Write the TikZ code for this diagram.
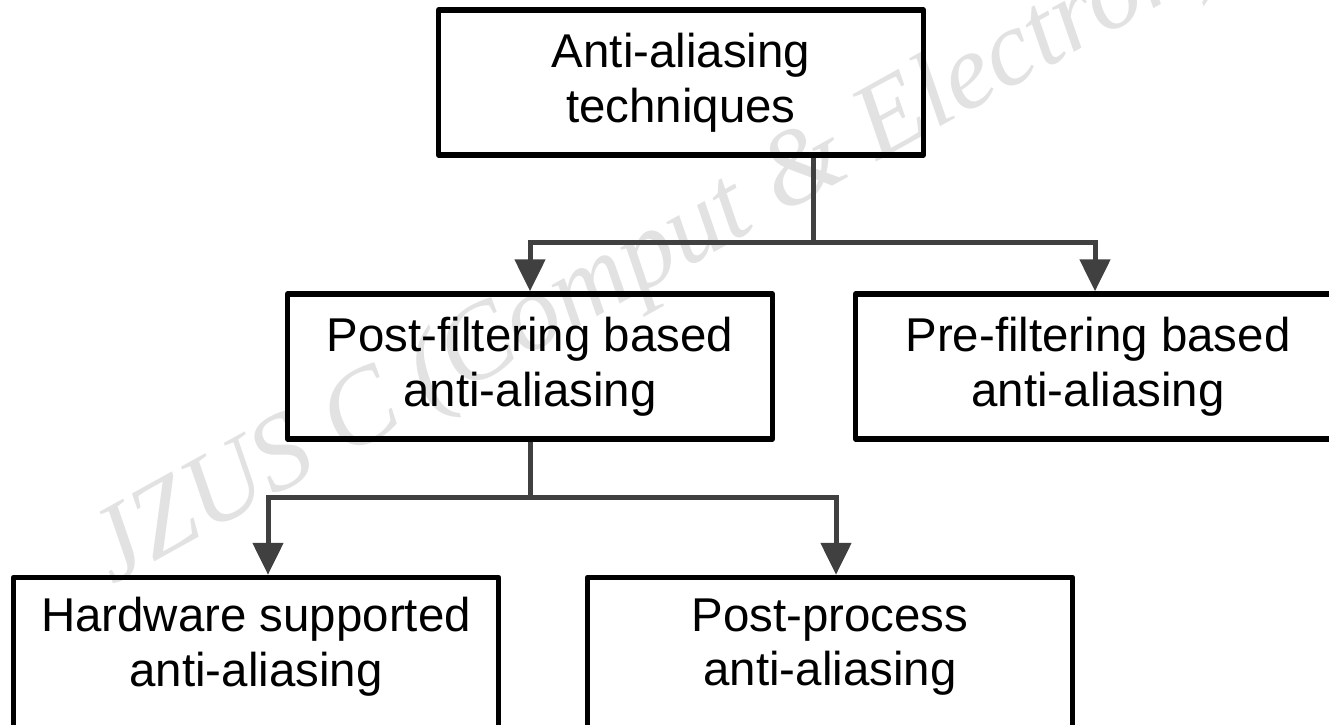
\documentclass[tikz,border=0pt]{standalone}
\usepackage{fontspec}
\setmainfont{Liberation Sans}
\newfontfamily\wmfont{Liberation Serif}
\usetikzlibrary{arrows.meta}
\definecolor{linkgray}{HTML}{404040}
\definecolor{markgray}{HTML}{E2E2E2}
\tikzstyle{box}=[draw, line width=0.11cm, line join=round, minimum width=9.7cm, minimum height=2.9cm, inner sep=0pt, align=center, font=\fontsize{27}{31}\selectfont]
\tikzstyle{lowbox}=[box, minimum height=3.1cm, text depth=0.52cm]
\tikzstyle{link}=[draw=linkgray, line width=0.1cm]
\tikzstyle{arrow}=[link, -{Triangle[width=0.6cm, length=0.64cm]}, linkgray]

\begin{document}
\begin{tikzpicture}[x=0.02cm, y=-0.02cm]
    \useasboundingbox (0, 0) rectangle (1329, 724);
    \clip (0, 0) rectangle (1329, 724);
    % watermark
    \node[anchor=base west, rotate=29, text=markgray, inner sep=0pt,
      font=\wmfont\itshape\fontsize{61}{61}\selectfont] (mark) at (112, 586)
      {JZUS C (Comput \& Electron)};
    % boxes
    \node[box] (apex) at (681, 82.5) {Anti-aliasing\\techniques};
    \node[box] (postf) at (530, 366.5) {Post-filtering based\\anti-aliasing};
    \node[box] (pref) at (1098, 366.5) {Pre-filtering based\\anti-aliasing};
    \node[lowbox] (hw) at (256, 655) {Hardware supported\\anti-aliasing};
    \node[lowbox] (pp) at (830, 655) {Post-process\\anti-aliasing};
    % connectors
    \coordinate (fork1) at (813, 242);
    \coordinate (fork2) at (530, 497);
    \draw[link] (apex.south -| fork1) -- (fork1);
    \draw[arrow] (fork1) -| (postf.north);
    \draw[arrow] (fork1) -| ([xshift=-0.06cm]pref.north);
    \draw[link] (postf.south) -- (fork2);
    \draw[arrow] (fork2) -| ([xshift=0.24cm]hw.north);
    \draw[arrow] (fork2) -| ([xshift=0.12cm]pp.north);
  \end{tikzpicture}
\end{document}
